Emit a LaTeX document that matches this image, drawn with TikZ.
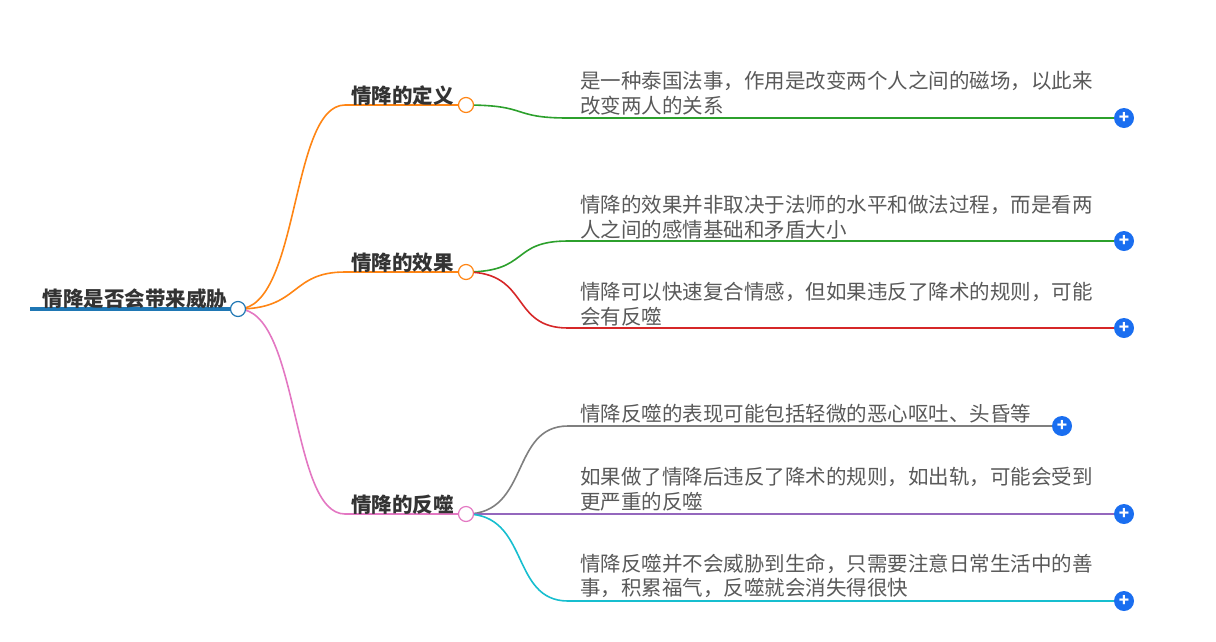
\documentclass[tikz,border=0pt]{standalone}
\usepackage{fontspec}
\setmainfont{Noto Sans CJK SC}
\begin{document}
\begin{tikzpicture}[x=1pt,y=-1pt,
  br/.style={line width=1.6pt},
  hub/.style={circle,line width=1.2pt,fill=white,minimum size=15pt,inner sep=0},
  lab/.style={anchor=south west,font=\bfseries\fontsize{20.5}{24}\selectfont,text=black!80,inner sep=1pt},
  leaf/.style={anchor=west,align=left,font=\fontsize{20.5}{24.5}\selectfont,text=black!65,inner sep=0},
  plus/.style={circle,fill=pb,minimum size=20pt,inner sep=0,text=white,font=\bfseries\fontsize{17}{17}\selectfont}]
\useasboundingbox (0,0) rectangle (1216,641);
\definecolor{org}{HTML}{FF8514}\definecolor{grn}{HTML}{2CA02C}\definecolor{red2}{HTML}{D62728}
\definecolor{pnk}{HTML}{E377C2}\definecolor{gry}{HTML}{7F7F7F}\definecolor{prp}{HTML}{9467BD}\definecolor{cyn}{HTML}{17BECF}\definecolor{blu}{HTML}{1F77B4}
\definecolor{pb}{HTML}{1A6EF0}
% root
\draw[blu,line width=4pt] (30,309) -- (238,309);
\node[lab,anchor=south] (rt) at (135,310) {情降是否会带来威胁};
\coordinate (r) at (238,309);
% level1
\coordinate (a) at (466,105);\coordinate (b) at (466,272);\coordinate (c) at (466,514);
\draw[org,br] (r) .. controls (300,309) and (290,105) .. (345,105) -- (a);
\draw[org,br] (r) .. controls (300,309) and (290,272) .. (345,272) -- (b);
\draw[pnk,br] (r) .. controls (300,309) and (290,514) .. (345,514) -- (c);
\node[lab] (la) at (350,107) {情降的定义};
\node[lab] (lb) at (350,274) {情降的效果};
\node[lab] (lc) at (350,516) {情降的反噬};
% leaves
\coordinate (p1) at (1124,118);\coordinate (p2) at (1124,241);\coordinate (p3) at (1124,328);
\coordinate (p4) at (1062,426);\coordinate (p5) at (1124,514);\coordinate (p6) at (1124,601);
\draw[grn,br] (a) .. controls (530,105) and (510,118) .. (568,118) -- (p1);
\draw[grn,br] (b) .. controls (530,272) and (510,241) .. (568,241) -- (p2);
\draw[red2,br] (b) .. controls (530,272) and (510,328) .. (568,328) -- (p3);
\draw[gry,br] (c) .. controls (530,514) and (510,426) .. (568,426) -- (p4);
\draw[prp,br] (c) -- (p5);
\draw[cyn,br] (c) .. controls (530,514) and (510,601) .. (568,601) -- (p6);
\node[hub,draw=blu] at (r) {};
\node[hub,draw=org] at (a) {};\node[hub,draw=org] at (b) {};\node[hub,draw=pnk] at (c) {};
\foreach \p in {p1,p2,p3,p4,p5,p6}{\node[plus] at (\p) {+};}
\node[leaf] (t1) at (580,93) {是一种泰国法事，作用是改变两个人之间的磁场，以此来\\改变两人的关系};
\node[leaf] (t2) at (580,217) {情降的效果并非取决于法师的水平和做法过程，而是看两\\人之间的感情基础和矛盾大小};
\node[leaf] (t3) at (580,304) {情降可以快速复合情感，但如果违反了降术的规则，可能\\会有反噬};
\node[leaf] (t4) at (580,414) {情降反噬的表现可能包括轻微的恶心呕吐、头昏等};
\node[leaf] (t5) at (580,489) {如果做了情降后违反了降术的规则，如出轨，可能会受到\\更严重的反噬};
\node[leaf] (t6) at (580,576) {情降反噬并不会威胁到生命，只需要注意日常生活中的善\\事，积累福气，反噬就会消失得很快};
\end{tikzpicture}
\end{document}
